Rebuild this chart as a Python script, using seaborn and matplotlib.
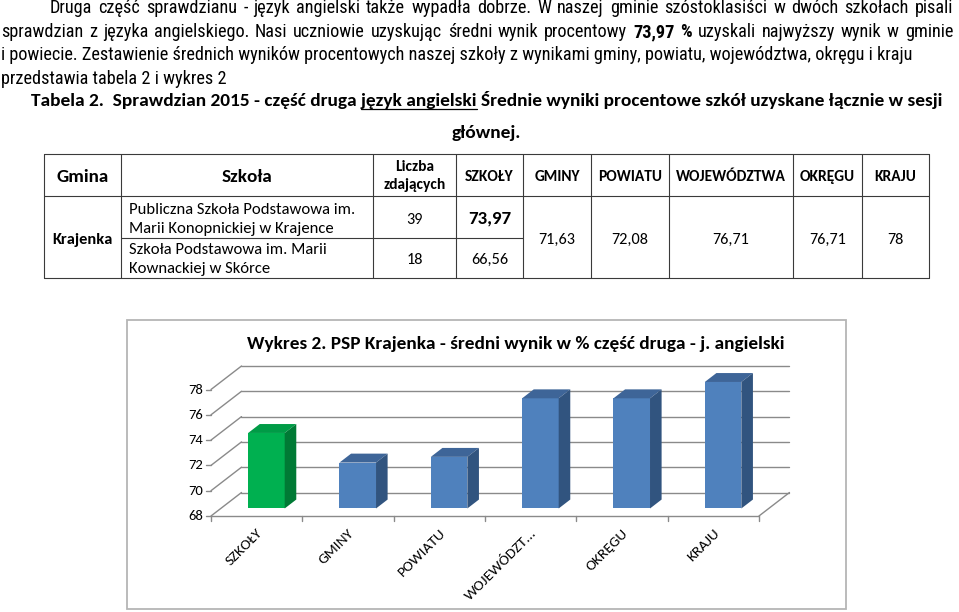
import matplotlib
matplotlib.use("Agg")
import matplotlib.pyplot as plt
import seaborn as sns
import pandas as pd
from matplotlib.patches import Polygon, Rectangle
from matplotlib import font_manager as fm

# ---------------- data ----------------
categories = ["SZKOŁY", "GMINY", "POWIATU", "WOJEWÓDZTWA", "OKRĘGU", "KRAJU"]
tick_labels = ["SZKOŁY", "GMINY", "POWIATU", "WOJEWÓDZT...", "OKRĘGU", "KRAJU"]
values = [73.97, 71.63, 72.08, 76.71, 76.71, 78.0]
y_ticks = [68, 70, 72, 74, 76, 78]
chart_title = "Wykres 2. PSP Krajenka - średni wynik w % część druga - j. angielski"

table_headers = ["Gmina", "Szkoła", "Liczba\nzdających", "SZKOŁY", "GMINY",
                 "POWIATU", "WOJEWÓDZTWA", "OKRĘGU", "KRAJU"]
gmina = "Krajenka"
schools = [["Publiczna Szkoła Podstawowa im.", "Marii Konopnickiej w Krajence"],
           ["Szkoła Podstawowa im. Marii", "Kownackiej w Skórce"]]
students = ["39", "18"]
school_scores = ["73,97", "66,56"]
other_scores = ["71,63", "72,08", "76,71", "76,71", "78"]

para_lines = [
    "Druga część sprawdzianu - język angielski także wypadła dobrze. W naszej gminie szóstoklasiści w dwóch szkołach pisali",
    "sprawdzian z języka angielskiego. Nasi uczniowie uzyskując średni wynik procentowy",
    "i powiecie. Zestawienie średnich wyników procentowych naszej szkoły z wynikami gminy, powiatu, województwa, okręgu i kraju",
    "przedstawia tabela 2 i wykres 2",
]
para_bold = "73,97 %"
para_tail = "uzyskali najwyższy wynik w gminie"
table_title_parts = ["Tabela 2.  Sprawdzian 2015 - część druga", "język angielski",
                     "Średnie wyniki procentowe szkół uzyskane łącznie w sesji"]
table_title_2 = "głównej."

# ---------------- setup ----------------
sns.set_theme(style="white")
names = {f.name for f in fm.fontManager.ttflist}
PARA = next((f for f in ["Liberation Sans Narrow", "Arial Narrow", "Roboto Condensed", "Roboto",
                         "Liberation Sans"] if f in names), "DejaVu Sans")
CAL = "Carlito" if "Carlito" in names else "Lato"
plt.rcParams["font.family"] = [CAL, "DejaVu Sans"]

W, H = 959, 612
fig = plt.figure(figsize=(W / 100, H / 100), dpi=100)
fig.patch.set_facecolor("white")
bg = fig.add_axes([0, 0, 1, 1])
bg.set_xlim(0, W)
bg.set_ylim(H, 0)
bg.axis("off")
R = fig.canvas.get_renderer()


def make(x, y, s, size, fam=CAL, bold=False, ha="left", va="baseline", color="black", **kw):
    return bg.text(x, y, s, fontsize=size, family=[fam, "DejaVu Sans"],
                   fontweight="bold" if bold else "normal", ha=ha, va=va, color=color, **kw)


def wid(t):
    return t.get_window_extent(renderer=R).width


def measure(s, size, fam, bold):
    t = make(W / 2, H / 2, s, size, fam, bold)
    w = wid(t)
    t.remove()
    return w


def fit_size(s, size, fam, bold, target):
    return size * target / measure(s, size, fam, bold)


def justify(x0, x1, y, tokens, size, fam):
    ts = [make(0, y, w, size, fam, b) for w, b in tokens]
    ws = [wid(t) for t in ts]
    gap = (x1 - x0 - sum(ws)) / (len(ts) - 1)
    x = x0
    for t, w in zip(ts, ws):
        t.set_x(x)
        x += w + gap


# ---------------- paragraph ----------------
psize = fit_size(para_lines[2], 12, PARA, False, 912)
justify(50, 953, 13, [(w, False) for w in para_lines[0].split()], psize, PARA)
toks = [(w, False) for w in para_lines[1].split()] + [(w, True) for w in para_bold.split()] + \
       [(w, False) for w in para_tail.split()]
justify(1, 953, 37, toks, psize, PARA)
make(1, 60.5, para_lines[2], psize, PARA)
make(1, 84, para_lines[3], psize, PARA)

# ---------------- table title ----------------
full_title = " ".join(table_title_parts)
tsize = fit_size(full_title, 13, CAL, True, 913)
make(31, 106, full_title, tsize, CAL, True)
bar_w = measure("|", tsize, CAL, True)
pre = measure(table_title_parts[0] + " |", tsize, CAL, True) - bar_w
und = measure(table_title_parts[1], tsize, CAL, True)
bg.plot([31 + pre, 31 + pre + und], [108.5, 108.5], color="black", lw=0.9)
make(486, 138, table_title_2, tsize, CAL, True, ha="center")

# ---------------- table ----------------
col_x = [44, 121, 373, 456, 523, 591, 669, 793, 862, 929]
row_y = [154, 196, 238, 278]
lc = "#3a3a3a"
for x in col_x:
    bg.plot([x, x], [row_y[0], row_y[-1]], color=lc, lw=0.8)
bg.plot([col_x[0], col_x[-1]], [row_y[0]] * 2, color=lc, lw=0.8)
bg.plot([col_x[0], col_x[-1]], [row_y[1]] * 2, color=lc, lw=0.8)
bg.plot([col_x[0], col_x[-1]], [row_y[3]] * 2, color=lc, lw=0.8)
bg.plot([col_x[1], col_x[4]], [row_y[2]] * 2, color=lc, lw=0.8)

centers = [(a + b) / 2 for a, b in zip(col_x[:-1], col_x[1:])]
big_h = fit_size("Gmina", 12, CAL, True, 52)
small_h = fit_size("WOJEWÓDZTWA", 10, CAL, True, 110)
make(centers[0], 182.5, table_headers[0], big_h, CAL, True, ha="center")
make(centers[1], 182.5, table_headers[1], big_h, CAL, True, ha="center")
l1, l2 = table_headers[2].split("\n")
make(centers[2], 171, l1, small_h, CAL, True, ha="center")
make(centers[2], 189.5, l2, small_h, CAL, True, ha="center")
for c, h in zip(centers[3:], table_headers[3:]):
    make(c, 181, h, small_h, CAL, True, ha="center")

make(centers[0], 244, gmina, fit_size(gmina, 11, CAL, True, 60), CAL, True, ha="center")
body = fit_size("Marii Konopnickiej w Krajence", 11, CAL, False, 204)
for (a, b), (ya, yb) in zip(schools, [(214, 233), (253.5, 273)]):
    make(129, ya, a, body, CAL)
    make(129, yb, b, body, CAL)
num = fit_size("66,56", 11, CAL, False, 36.7)
make(centers[2], 223.5, students[0], num, CAL, ha="center")
make(centers[2], 264, students[1], num, CAL, ha="center")
make(centers[3], 224, school_scores[0], fit_size(school_scores[0], 13, CAL, True, 43), CAL, True, ha="center")
make(centers[3], 264, school_scores[1], num, CAL, ha="center")
for c, s in zip(centers[4:], other_scores):
    make(c, 243.5, s, num, CAL, ha="center")

# ---------------- chart box & title ----------------
bg.add_patch(Rectangle((127, 320), 846 - 127, 609 - 320, fill=False, ec="#b5b5b5", lw=1.3))
make(516, 349, chart_title, fit_size(chart_title, 14, CAL, True, 538), CAL, True, ha="center")

# ---------------- 3D-style bar chart ----------------
X0, CW, YF, PXY, DX, DY, F1, F2 = 211.0, 91.33, 516.0, 12.65, 30.5, -23.5, 0.32, 0.70
n = len(categories)
ymin, ymax = min(y_ticks), max(y_ticks)
left = X0 + F1 * DX
bottom = YF + F1 * DY
ax = fig.add_axes([left / W, 1 - bottom / H, n * CW / W, (ymax - ymin) * PXY / H])
ax.patch.set_alpha(0)

df = pd.DataFrame({"cat": categories, "val": values})
front = ["#00b050"] + ["#4f81bd"] * (n - 1)
tops = ["#009b46"] + ["#3e6598"] * (n - 1)
sides = ["#007a35"] + ["#31547f"] * (n - 1)
sns.barplot(data=df, x="cat", y="val", hue="cat", palette=front, width=0.4, saturation=1,
            legend=False, errorbar=None, ax=ax, linewidth=0, zorder=3)
ax.set_xlim(-0.5, n - 0.5)
ax.set_ylim(ymin, ymax)
ax.axis("off")


def off(d):
    return (d - F1) * DX / CW, -(d - F1) * DY / PXY


gx0, gy0 = off(0)
gx1, gy1 = off(1)
bdx = (F2 - F1) * DX / CW
bdy = -(F2 - F1) * DY / PXY
lo, hi = -0.5, n - 0.5
grid = "#8a8a8a"
for t in y_ticks:
    ax.plot([lo + gx1, hi + gx1], [t + gy1] * 2, color=grid, lw=1.0, clip_on=False, zorder=1)
    ax.plot([lo + gx0, lo + gx1], [t + gy0, t + gy1], color=grid, lw=1.0, clip_on=False, zorder=1)
    ax.plot([lo + gx0 - 5 / CW, lo + gx0], [t + gy0] * 2, color=grid, lw=1.0, clip_on=False, zorder=1)
    ax.text(lo + gx0 - 8 / CW, t + gy0, str(t), ha="right", va="center", fontsize=10.5,
            family=[CAL, "DejaVu Sans"], color="black", clip_on=False)
ax.plot([lo + gx0, hi + gx0], [ymin + gy0] * 2, color=grid, lw=1.0, clip_on=False, zorder=1)
ax.plot([hi + gx0, hi + gx1], [ymin + gy0, ymin + gy1], color=grid, lw=1.0, clip_on=False, zorder=1)
for k in range(n + 1):
    ax.plot([lo + k + gx0] * 2, [ymin + gy0, ymin + gy0 - 5 / PXY], color=grid, lw=1.0,
            clip_on=False, zorder=1)

bars = sorted([p for p in ax.patches if isinstance(p, Rectangle)], key=lambda p: p.get_x())
for i, p in enumerate(bars):
    x0, w, h = p.get_x(), p.get_width(), p.get_height()
    ax.add_patch(Polygon([(x0, h), (x0 + w, h), (x0 + w + bdx, h + bdy), (x0 + bdx, h + bdy)],
                         closed=True, fc=tops[i], ec="none", clip_on=False, zorder=3))
    ax.add_patch(Polygon([(x0 + w, ymin), (x0 + w + bdx, ymin + bdy), (x0 + w + bdx, h + bdy), (x0 + w, h)],
                         closed=True, fc=sides[i], ec="none", clip_on=False, zorder=3))

for i, lab in enumerate(tick_labels):
    ax.text(i + gx0 + 4 / CW, ymin + gy0 - 15 / PXY, lab, rotation=45, rotation_mode="anchor",
            ha="right", va="center", fontsize=11, family=[CAL, "DejaVu Sans"], color="black",
            clip_on=False)

fig.savefig("out.png", dpi=100, facecolor="white")
